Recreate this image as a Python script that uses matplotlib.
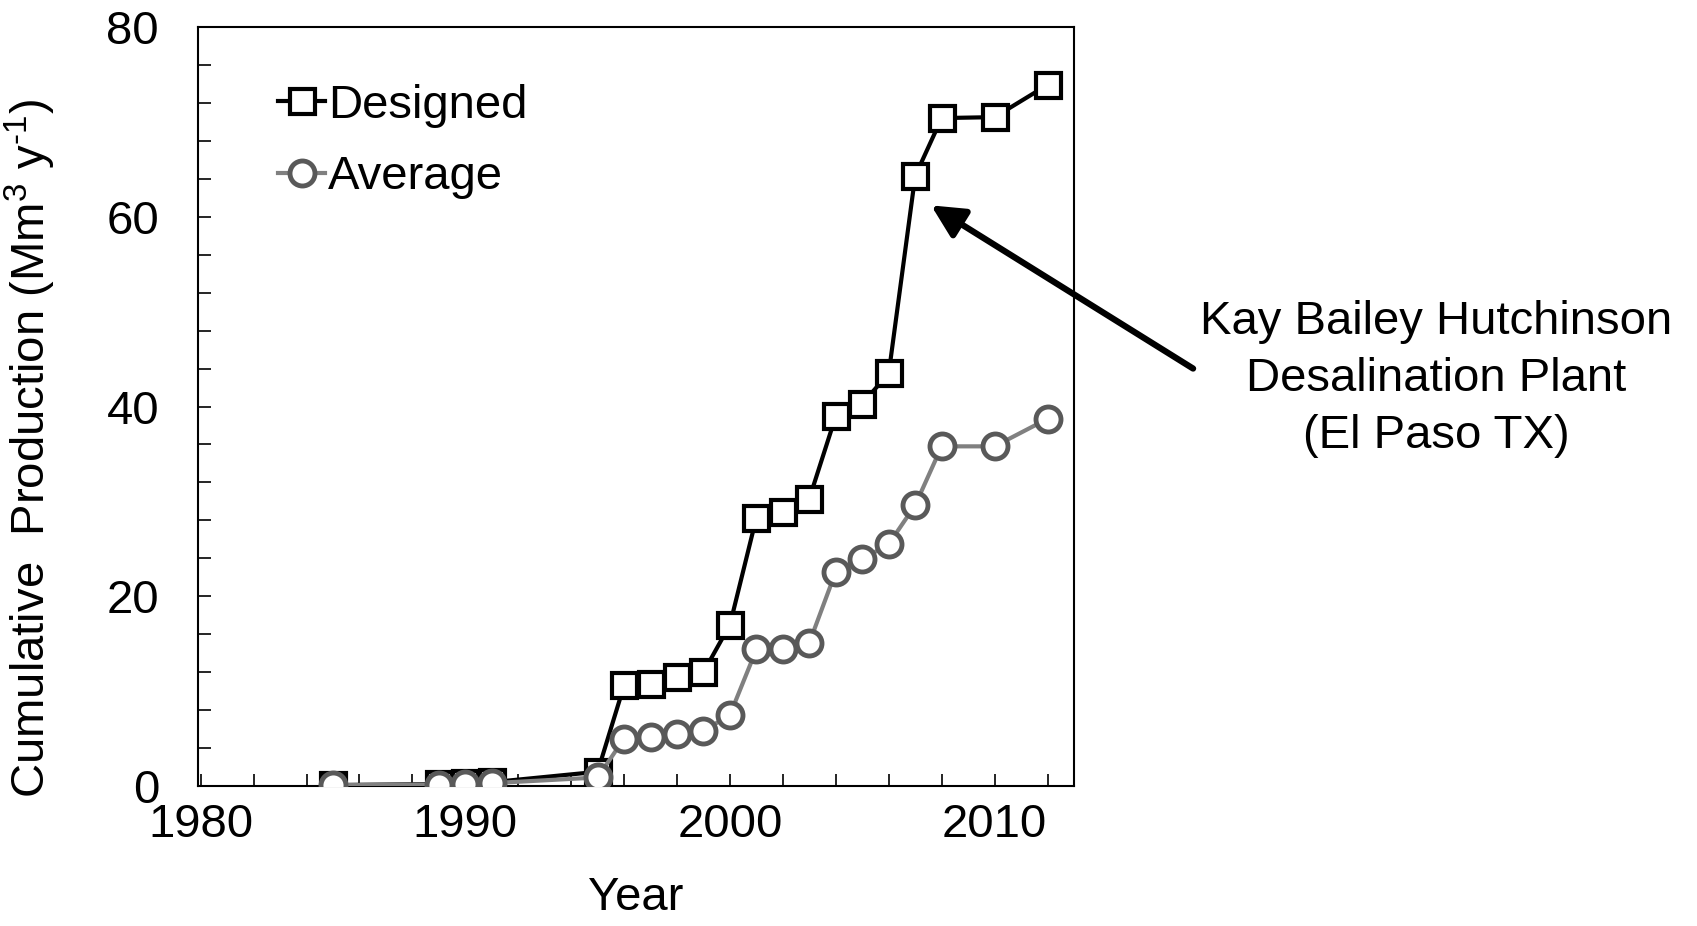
import numpy as np
import matplotlib
matplotlib.use('Agg')
import matplotlib.pyplot as plt
from matplotlib.ticker import MultipleLocator

plt.rcParams['font.family'] = ['Liberation Sans', 'DejaVu Sans']
plt.rcParams['mathtext.fontset'] = 'custom'
plt.rcParams['mathtext.rm'] = 'Liberation Sans'
plt.rcParams['mathtext.it'] = 'Liberation Sans'

# data
years = [1985, 1989, 1990, 1991, 1995, 1996, 1997, 1998, 1999, 2000, 2001,
         2002, 2003, 2004, 2005, 2006, 2007, 2008, 2010, 2012]
designed = [0.1, 0.2, 0.3, 0.4, 1.5, 10.6, 10.8, 11.5, 12.0, 17.0, 28.3,
            28.9, 30.3, 39.0, 40.3, 43.5, 64.3, 70.4, 70.5, 73.9]
average = [0.1, 0.15, 0.2, 0.3, 0.9, 5.0, 5.2, 5.5, 5.8, 7.5, 14.4,
           14.4, 15.1, 22.6, 23.9, 25.5, 29.6, 35.8, 35.8, 38.7]

note = 'Kay Bailey Hutchinson\nDesalination Plant\n(El Paso TX)'
fs = 34

fig = plt.figure(figsize=(16.97, 9.26), dpi=100)
ax = fig.add_axes([198/1697, 1-786/926, 876/1697, 759/926])

ax.plot(years, designed, color='black', lw=3, marker='s', ms=18,
        mfc='white', mec='black', mew=3, label='Designed', zorder=3)
ax.plot(years, average, color='#808080', lw=3, marker='o', ms=18,
        mfc='white', mec='#595959', mew=3.5, label='Average', zorder=4)

ax.set_xlim(1979.9, 2013)
ax.set_ylim(0, 80)
ax.xaxis.set_major_locator(MultipleLocator(10))
ax.xaxis.set_minor_locator(MultipleLocator(2))
ax.yaxis.set_major_locator(MultipleLocator(20))
ax.yaxis.set_minor_locator(MultipleLocator(4))
ax.tick_params(which='both', direction='in', width=1.2, labelsize=fs)
ax.tick_params(which='both', length=9)
ax.tick_params(axis='y', which='major', pad=28)
ax.tick_params(axis='x', which='major', pad=12)
for s in ax.spines.values():
    s.set_linewidth(1.5)

ax.set_xlabel('Year', fontsize=fs, labelpad=21)
ax.set_ylabel(r'Cumulative  Production (Mm$^3$ y$^{\text{-1}}$)', fontsize=fs)
ax.yaxis.set_label_coords(-0.16, 0.444)

ax.legend(loc='upper left', bbox_to_anchor=(0.07, 0.95), frameon=False,
          fontsize=fs, handlelength=1.0, handletextpad=0.05,
          labelspacing=0.58, borderaxespad=0)

ax.annotate('', xy=(2007.6, 61.2), xytext=(2017.5, 44.0),
            xycoords='data', textcoords='data', annotation_clip=False,
            arrowprops=dict(arrowstyle='-|>,head_length=0.9,head_width=0.45',
                            lw=4.5, color='black', mutation_scale=22,
                            shrinkA=0, shrinkB=0))
ax.text(2026.7, 42.9, note, ha='center', va='center', fontsize=fs,
        linespacing=1.38, clip_on=False)

fig.savefig('out.png', dpi=100)
